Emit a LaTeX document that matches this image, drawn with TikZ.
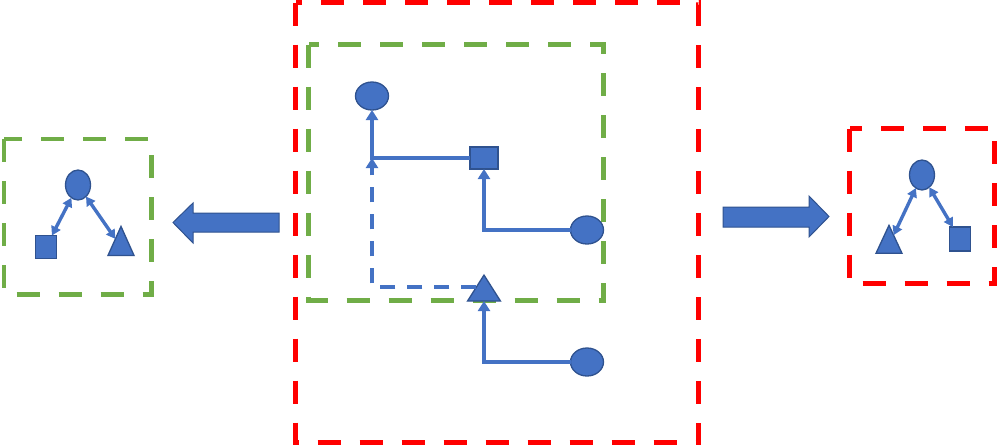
\documentclass[tikz,border=0pt]{standalone}
\usetikzlibrary{shapes.geometric,arrows.meta}
\definecolor{bfill}{HTML}{4472C4}
\definecolor{bdraw}{HTML}{2F528F}
\definecolor{gbox}{HTML}{70AD47}
\definecolor{rbox}{HTML}{FF0000}
\begin{document}
\begin{tikzpicture}[x=1pt,y=-1pt,
  shp/.style={fill=bfill, draw=bdraw, line width=1.3pt, inner sep=0pt, outer sep=0pt},
  ell/.style={shp, ellipse},
  sqr/.style={shp, rectangle},
  tri/.style={shp, isosceles triangle, isosceles triangle stretches, shape border rotate=90},
  conn/.style={draw=bfill, line width=3.6pt, -{Triangle[width=12pt,length=10pt]}},
  dconn/.style={draw=bfill, line width=3.6pt, dash pattern=on 15pt off 12pt, -{Triangle[width=12pt,length=10pt]}},
  bidir/.style={draw=bfill, line width=3.4pt, {Triangle[width=10pt,length=9pt]}-{Triangle[width=10pt,length=9pt]}},
  rdash/.style={draw=rbox, line width=4.8pt, dash pattern=on 23pt off 19pt},
  gdash/.style={draw=gbox, line width=4.8pt, dash pattern=on 23pt off 19pt},
  block/.style={fill=bfill, draw=bdraw, line width=1pt},
]
\useasboundingbox (0,0) rectangle (997,445);

% boxes
\draw[rdash] (295.5,2.5) rectangle (698.5,442.5);
\draw[gdash] (308.5,44.5) rectangle (603.5,300.5);
\draw[gdash] (4,139) rectangle (151.5,294.5);
\draw[rdash] (849.5,128.5) rectangle (994.5,283.5);

% block arrows
\draw[block] (279,213) -- (193,213) -- (193,203) -- (173,222.5) -- (193,243) -- (193,232) -- (279,232) -- cycle;
\draw[block] (723,207) -- (809,207) -- (809,196) -- (829,216.5) -- (809,237) -- (809,227) -- (723,227) -- cycle;

% central graph
\node[ell, minimum width=33pt, minimum height=28pt] (ctop) at (372,96) {};
\node[sqr, minimum width=28pt, minimum height=22pt] (csq) at (484,158) {};
\node[ell, minimum width=33pt, minimum height=28pt] (cr1) at (587,230) {};
\node[tri, minimum width=33pt, minimum height=26pt] (ctri) at (484,292) {};
\node[ell, minimum width=33pt, minimum height=28pt] (cr2) at (587,362) {};
\coordinate (cj) at (372,158);
\coordinate (cd) at (ctri.147);

\draw[conn] (csq.west) -| (ctop.south);
\draw[dconn] (cd) -| (cj);
\draw[conn] (cr1.west) -| (csq.south);
\draw[conn] (cr2.west) -| (ctri.-90);

% left graph
\node[ell, minimum width=25pt, minimum height=30pt] (le) at (78,185) {};
\node[sqr, minimum width=21pt, minimum height=23pt] (lsq) at (46,247) {};
\node[tri, minimum width=26pt, minimum height=29pt] (ltri) at (121,247) {};
\draw[bidir] (le) -- (lsq);
\draw[bidir] (le) -- (ltri);

% right graph
\node[ell, minimum width=25pt, minimum height=30pt] (re) at (922,175) {};
\node[tri, minimum width=26pt, minimum height=28pt] (rtri) at (889,245) {};
\node[sqr, minimum width=21pt, minimum height=24pt] (rsq) at (960,239) {};
\draw[bidir] (re) -- (rtri);
\draw[bidir] (re) -- (rsq);
\end{tikzpicture}
\end{document}
